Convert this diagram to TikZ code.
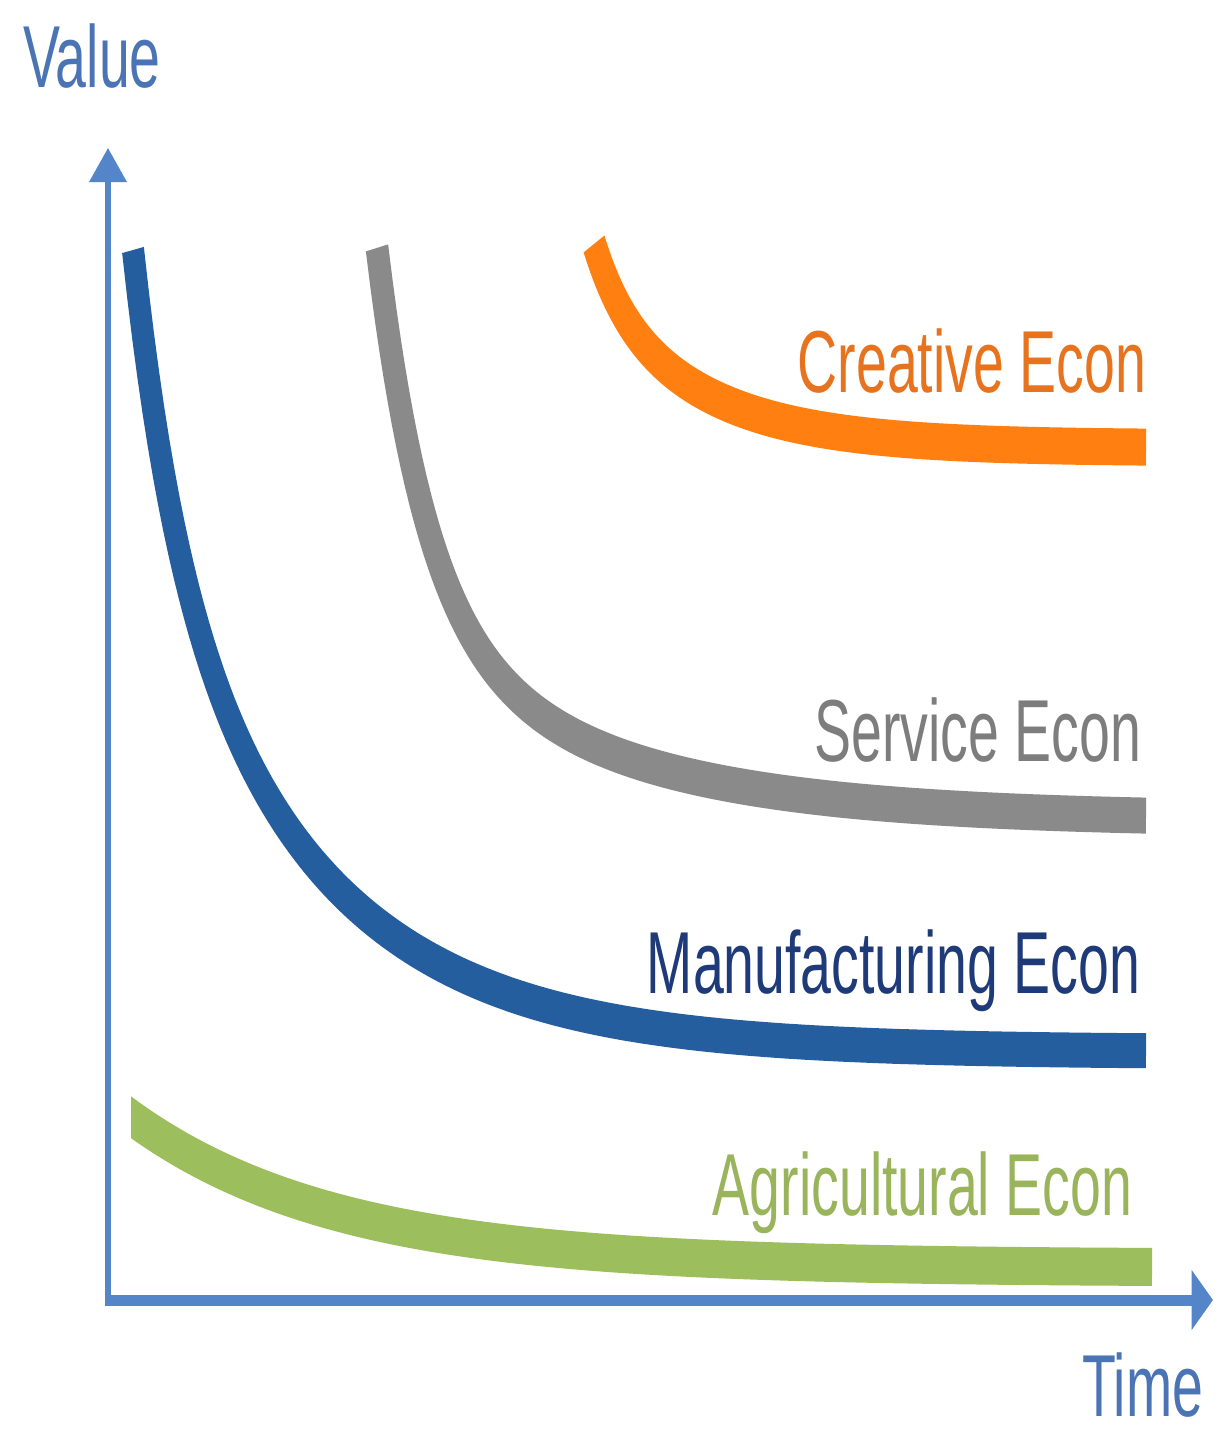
\documentclass[tikz,border=0pt]{standalone}
\usepackage{fontspec}
\setmainfont{Liberation Sans}
\usetikzlibrary{arrows.meta}
\definecolor{axisblue}{HTML}{5585C9}
\definecolor{axistext}{HTML}{4A74B3}
\definecolor{manblue}{HTML}{255E9E}
\definecolor{mantext}{HTML}{1F3A78}
\definecolor{servgray}{HTML}{8A8A8A}
\definecolor{servtext}{HTML}{7D7D7D}
\definecolor{creaorange}{HTML}{FF7F10}
\definecolor{creatext}{HTML}{E8731E}
\definecolor{agrigreen}{HTML}{9DBE5C}
\definecolor{agritext}{HTML}{9AB45C}
\tikzset{
  econcurve/.style={line width=17.5pt, line cap=butt, line join=round},
  axisline/.style={draw=axisblue, line width=5.5pt, line join=miter,
    {Triangle[length=17pt,width=29pt]}-{Triangle[length=17pt,width=29pt]}},
  lbl/.style={inner sep=0pt, outer sep=0pt, font=\fontsize{44pt}{50pt}\selectfont}
}
\begin{document}
\begin{tikzpicture}[x=0.5pt,y=-0.5pt]
\fill[white] (0,0) rectangle (1217,1435);
\path[use as bounding box] (0,0) rectangle (1217,1435);
\begin{scope}[transform canvas={xscale=0.63}, x=0.793651pt, y=-0.5pt]
  % axes
  \coordinate (O) at (108,1300);
  \coordinate (Ytip) at (108,148);
  \coordinate (Xtip) at (1213,1300);
  \draw[axisline] (Ytip) -- (O) -- (Xtip);
  \node[lbl, text=axistext, anchor=base west] (value) at (23,87) {Value};
  \node[lbl, text=axistext, anchor=base west] (time) at (1082,1416) {Time};
  % curves
  \draw[econcurve, draw=creaorange, line width=18.5pt]
    plot[domain=594:1146, samples=160] (\x, {448-149*exp(-0.0092*(\x-594))-55*exp(-0.034*(\x-594))});
  \draw[econcurve, draw=servgray, line width=18pt]
    plot[domain=377:1146, samples=180] (\x, {820-209*exp(-0.005*(\x-375))-380*exp(-0.02*(\x-375))});
  \draw[econcurve, draw=manblue]
    plot[domain=133:1146, samples=200] (\x, {1052-552*exp(-0.006*(\x-133))-250*exp(-0.024*(\x-133))});
  \begin{scope}
    \clip (131,1000) rectangle (1300,1400);
    \draw[econcurve, draw=agrigreen, line width=19pt]
      plot[domain=112:1152, samples=160] (\x, {1268-150*exp(-0.00483*(\x-132))});
  \end{scope}
  % labels
  \node[lbl, text=creatext, anchor=base east] (crea) at (1146,392) {Creative Econ};
  \node[lbl, text=servtext, anchor=base east] (serv) at (1141,761) {Service Econ};
  \node[lbl, text=mantext, anchor=base east] (manu) at (1140,993) {Manufacturing Econ};
  \node[lbl, text=agritext, anchor=base east] (agri) at (1132,1215) {Agricultural Econ};
\end{scope}
\end{tikzpicture}
\end{document}
